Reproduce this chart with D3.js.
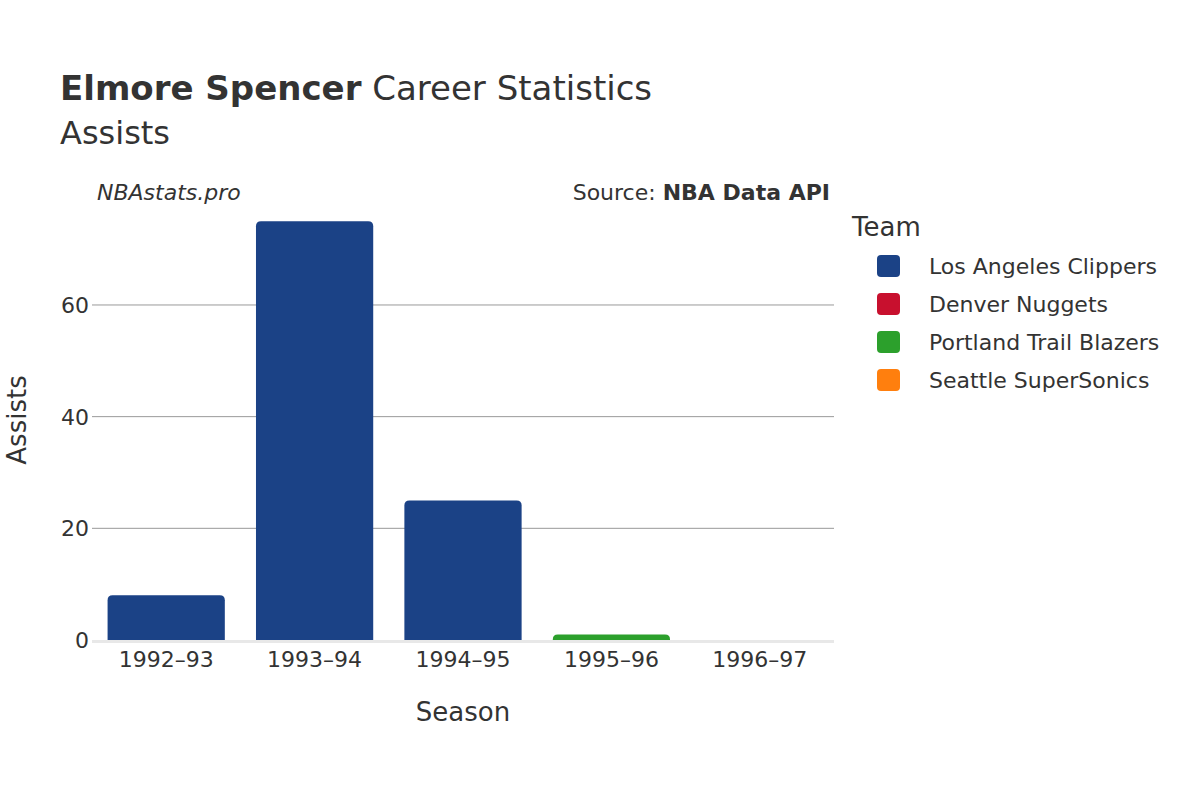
<!DOCTYPE html>
<html><head><meta charset="utf-8">
<script src="https://cdn.jsdelivr.net/npm/d3@7"></script>
<style>body{margin:0;background:#fff;font-family:"DejaVu Sans",sans-serif}</style>
</head><body><svg id="c" width="1200" height="800"></svg>
<script>
const seasons = ["1992–93","1993–94","1994–95","1995–96","1996–97"];
const teams = ["Los Angeles Clippers","Denver Nuggets","Portland Trail Blazers","Seattle SuperSonics"];
const colors = ["#1b4286","#c8102e","#2ca02c","#ff7f0e"];
const barSeason = ["1992–93","1993–94","1994–95","1995–96","1996–97"];
const barTeam = ["Los Angeles Clippers","Los Angeles Clippers","Los Angeles Clippers","Portland Trail Blazers","Seattle SuperSonics"];
const barValue = [8,75,25,1,0];
const yTicks = [0,20,40,60];

const svg = d3.select("#c").attr("font-family","DejaVu Sans");
const L=92,R=834,T=200,B=640;
const x = d3.scaleBand().domain(seasons).range([L,R]).paddingInner(0.21).paddingOuter(0.105);
const y = d3.scaleLinear().domain([0,78.8]).range([B,T]);
const col = d3.scaleOrdinal().domain(teams).range(colors);

svg.append("g").selectAll("line").data(yTicks.filter(d=>d>0)).join("line")
 .attr("x1",L).attr("x2",R).attr("y1",d=>y(d)).attr("y2",d=>y(d)).attr("stroke","#999").attr("stroke-width",1);
svg.append("line").attr("x1",L).attr("x2",R).attr("y1",y(0)+1.5).attr("y2",y(0)+1.5).attr("stroke","#e8e8e8").attr("stroke-width",3);

svg.append("g").selectAll("path").data(barValue.map((v,i)=>({s:barSeason[i],t:barTeam[i],v}))).join("path")
 .attr("fill",d=>col(d.t))
 .attr("d",d=>{const x0=x(d.s),w=x.bandwidth(),y0=y(d.v),h=B-y0;const r=Math.min(5,h,w/2);
   if(h<=0) return "";
   return `M${x0},${B}V${y0+r}Q${x0},${y0} ${x0+r},${y0}H${x0+w-r}Q${x0+w},${y0} ${x0+w},${y0+r}V${B}Z`;});

const ax = svg.append("g").attr("font-size",22).attr("fill","#333");
ax.selectAll(".yt").data(yTicks).join("text").attr("x",L-3).attr("y",d=>y(d)+8).attr("text-anchor","end").attr("fill","#333").text(d=>d);
ax.selectAll(".xt").data(seasons).join("text").attr("x",d=>x(d)+x.bandwidth()/2).attr("y",667).attr("text-anchor","middle").attr("fill","#333").text(d=>d);

svg.append("text").attr("x",463).attr("y",721).attr("text-anchor","middle").attr("font-size",26).attr("fill","#333").text("Season");
svg.append("text").attr("transform","translate(26,420) rotate(-90)").attr("text-anchor","middle").attr("font-size",26).attr("fill","#333").text("Assists");

const t = svg.append("text").attr("x",60).attr("y",100).attr("font-size",34).attr("fill","#333");
t.append("tspan").attr("font-weight","bold").text("Elmore Spencer");
t.append("tspan").text(" Career Statistics");
svg.append("text").attr("x",60).attr("y",144).attr("font-size",32).attr("fill","#333").text("Assists");
svg.append("text").attr("x",97).attr("y",200).attr("font-size",22).attr("font-style","italic").attr("fill","#333").text("NBAstats.pro");
const s = svg.append("text").attr("x",830).attr("y",200).attr("text-anchor","end").attr("font-size",22).attr("fill","#333");
s.append("tspan").text("Source: ");
s.append("tspan").attr("font-weight","bold").text("NBA Data API");

svg.append("text").attr("x",852).attr("y",236).attr("font-size",26).attr("fill","#333").text("Team");
const lg = svg.append("g").selectAll("g").data(teams).join("g").attr("transform",(d,i)=>`translate(0,${266+i*38})`);
lg.append("rect").attr("x",877).attr("y",-11).attr("width",23).attr("height",22).attr("rx",4).attr("fill",d=>col(d));
lg.append("text").attr("x",929).attr("y",8).attr("font-size",22).attr("fill","#333").text(d=>d);
</script></body></html>
